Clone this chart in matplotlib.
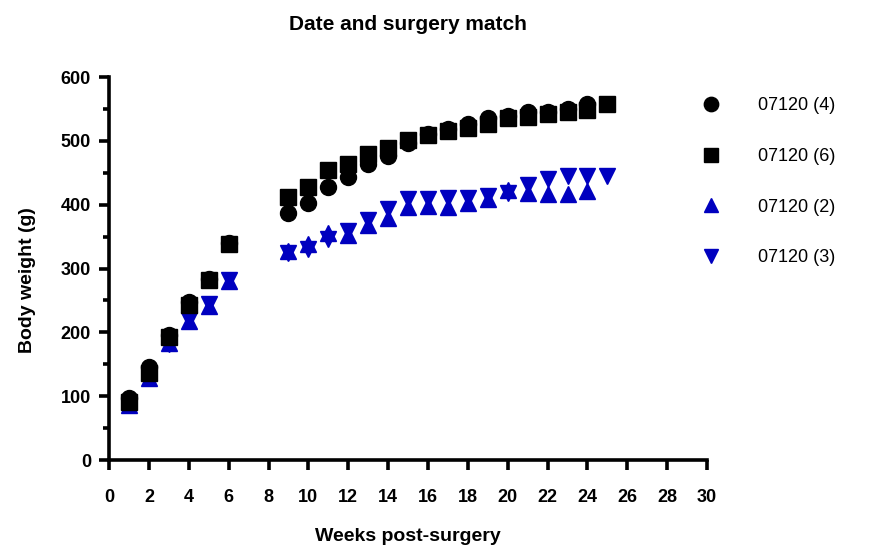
import matplotlib
matplotlib.use("Agg")
import matplotlib.pyplot as plt
from matplotlib.ticker import MultipleLocator

plt.rcParams['font.family'] = ['Liberation Sans', 'DejaVu Sans']

# weeks post-surgery
weeks_a = [1, 2, 3, 4, 5, 6, 9, 10, 11, 12, 13, 14, 15, 16, 17, 18, 19, 20, 21, 22, 23, 24]
weeks_b = [1, 2, 3, 4, 5, 6, 9, 10, 11, 12, 13, 14, 15, 16, 17, 18, 19, 20, 21, 22, 23, 24, 25]

# 07120 (4) - circles
s4 = [97, 145, 196, 248, 283, 340, 387, 403, 428, 443, 463, 476, 496, 511, 519, 526, 536, 539, 545, 545, 550, 557]
# 07120 (6) - squares
s6 = [91, 137, 193, 243, 282, 339, 412, 428, 454, 464, 480, 489, 502, 509, 515, 520, 527, 535, 537, 542, 545, 548, 558]
# 07120 (2) - up triangles
s2 = [86, 129, 183, 217, 241, 281, 327, 338, 355, 353, 368, 379, 396, 398, 397, 402, 409, 423, 419, 416, 416, 421]
# 07120 (3) - down triangles
s3 = [88, 133, 181, 219, 244, 282, 324, 330, 347, 359, 376, 394, 409, 409, 410, 410, 414, 418, 431, 440, 445, 445, 445]

labels = ["07120 (4)", "07120 (6)", "07120 (2)", "07120 (3)"]
blue = "#0000BF"

fig = plt.figure(figsize=(8.96, 5.5), dpi=100)
ax = fig.add_axes([0.1217, 0.1636, 0.6674, 0.6964])

ms = 11.5
h3, = ax.plot(weeks_b, s3, linestyle='none', marker='v', color=blue, markersize=ms, zorder=2)
h2, = ax.plot(weeks_a, s2, linestyle='none', marker='^', color=blue, markersize=ms, zorder=3)
h4, = ax.plot(weeks_a, s4, linestyle='none', marker='o', color='black', markersize=ms, zorder=4)
h6, = ax.plot(weeks_b, s6, linestyle='none', marker='s', color='black', markersize=ms * 0.97, zorder=5)

ax.set_xlim(0, 30)
ax.set_ylim(0, 600)
ax.xaxis.set_major_locator(MultipleLocator(2))
ax.yaxis.set_major_locator(MultipleLocator(100))
ax.yaxis.set_minor_locator(MultipleLocator(50))

for side in ['top', 'right']:
    ax.spines[side].set_visible(False)
for side in ['left', 'bottom']:
    ax.spines[side].set_linewidth(2.6)

ax.tick_params(axis='both', which='major', length=7, width=2.6, labelsize=13, pad=6)
ax.tick_params(axis='y', which='minor', length=4.5, width=2.6)
for lab in ax.get_xticklabels() + ax.get_yticklabels():
    lab.set_fontweight('bold')
ax.tick_params(axis='x', pad=14)

ax.set_xlabel("Weeks post-surgery", fontsize=14, fontweight='bold', labelpad=16)
ax.set_ylabel("Body weight (g)", fontsize=14, fontweight='bold')
ax.yaxis.set_label_coords(-0.122, 0.47)
fig.text(0.455, 0.955, "Date and surgery match", fontsize=15, fontweight='bold',
         ha='center', va='center')

fig.legend([h4, h6, h2, h3], labels, loc='upper left', bbox_to_anchor=(0.763, 0.853),
           frameon=False, fontsize=13, handlelength=1.2, handletextpad=2.0,
           labelspacing=1.87, markerscale=0.9)

fig.savefig("out.png", dpi=100)
